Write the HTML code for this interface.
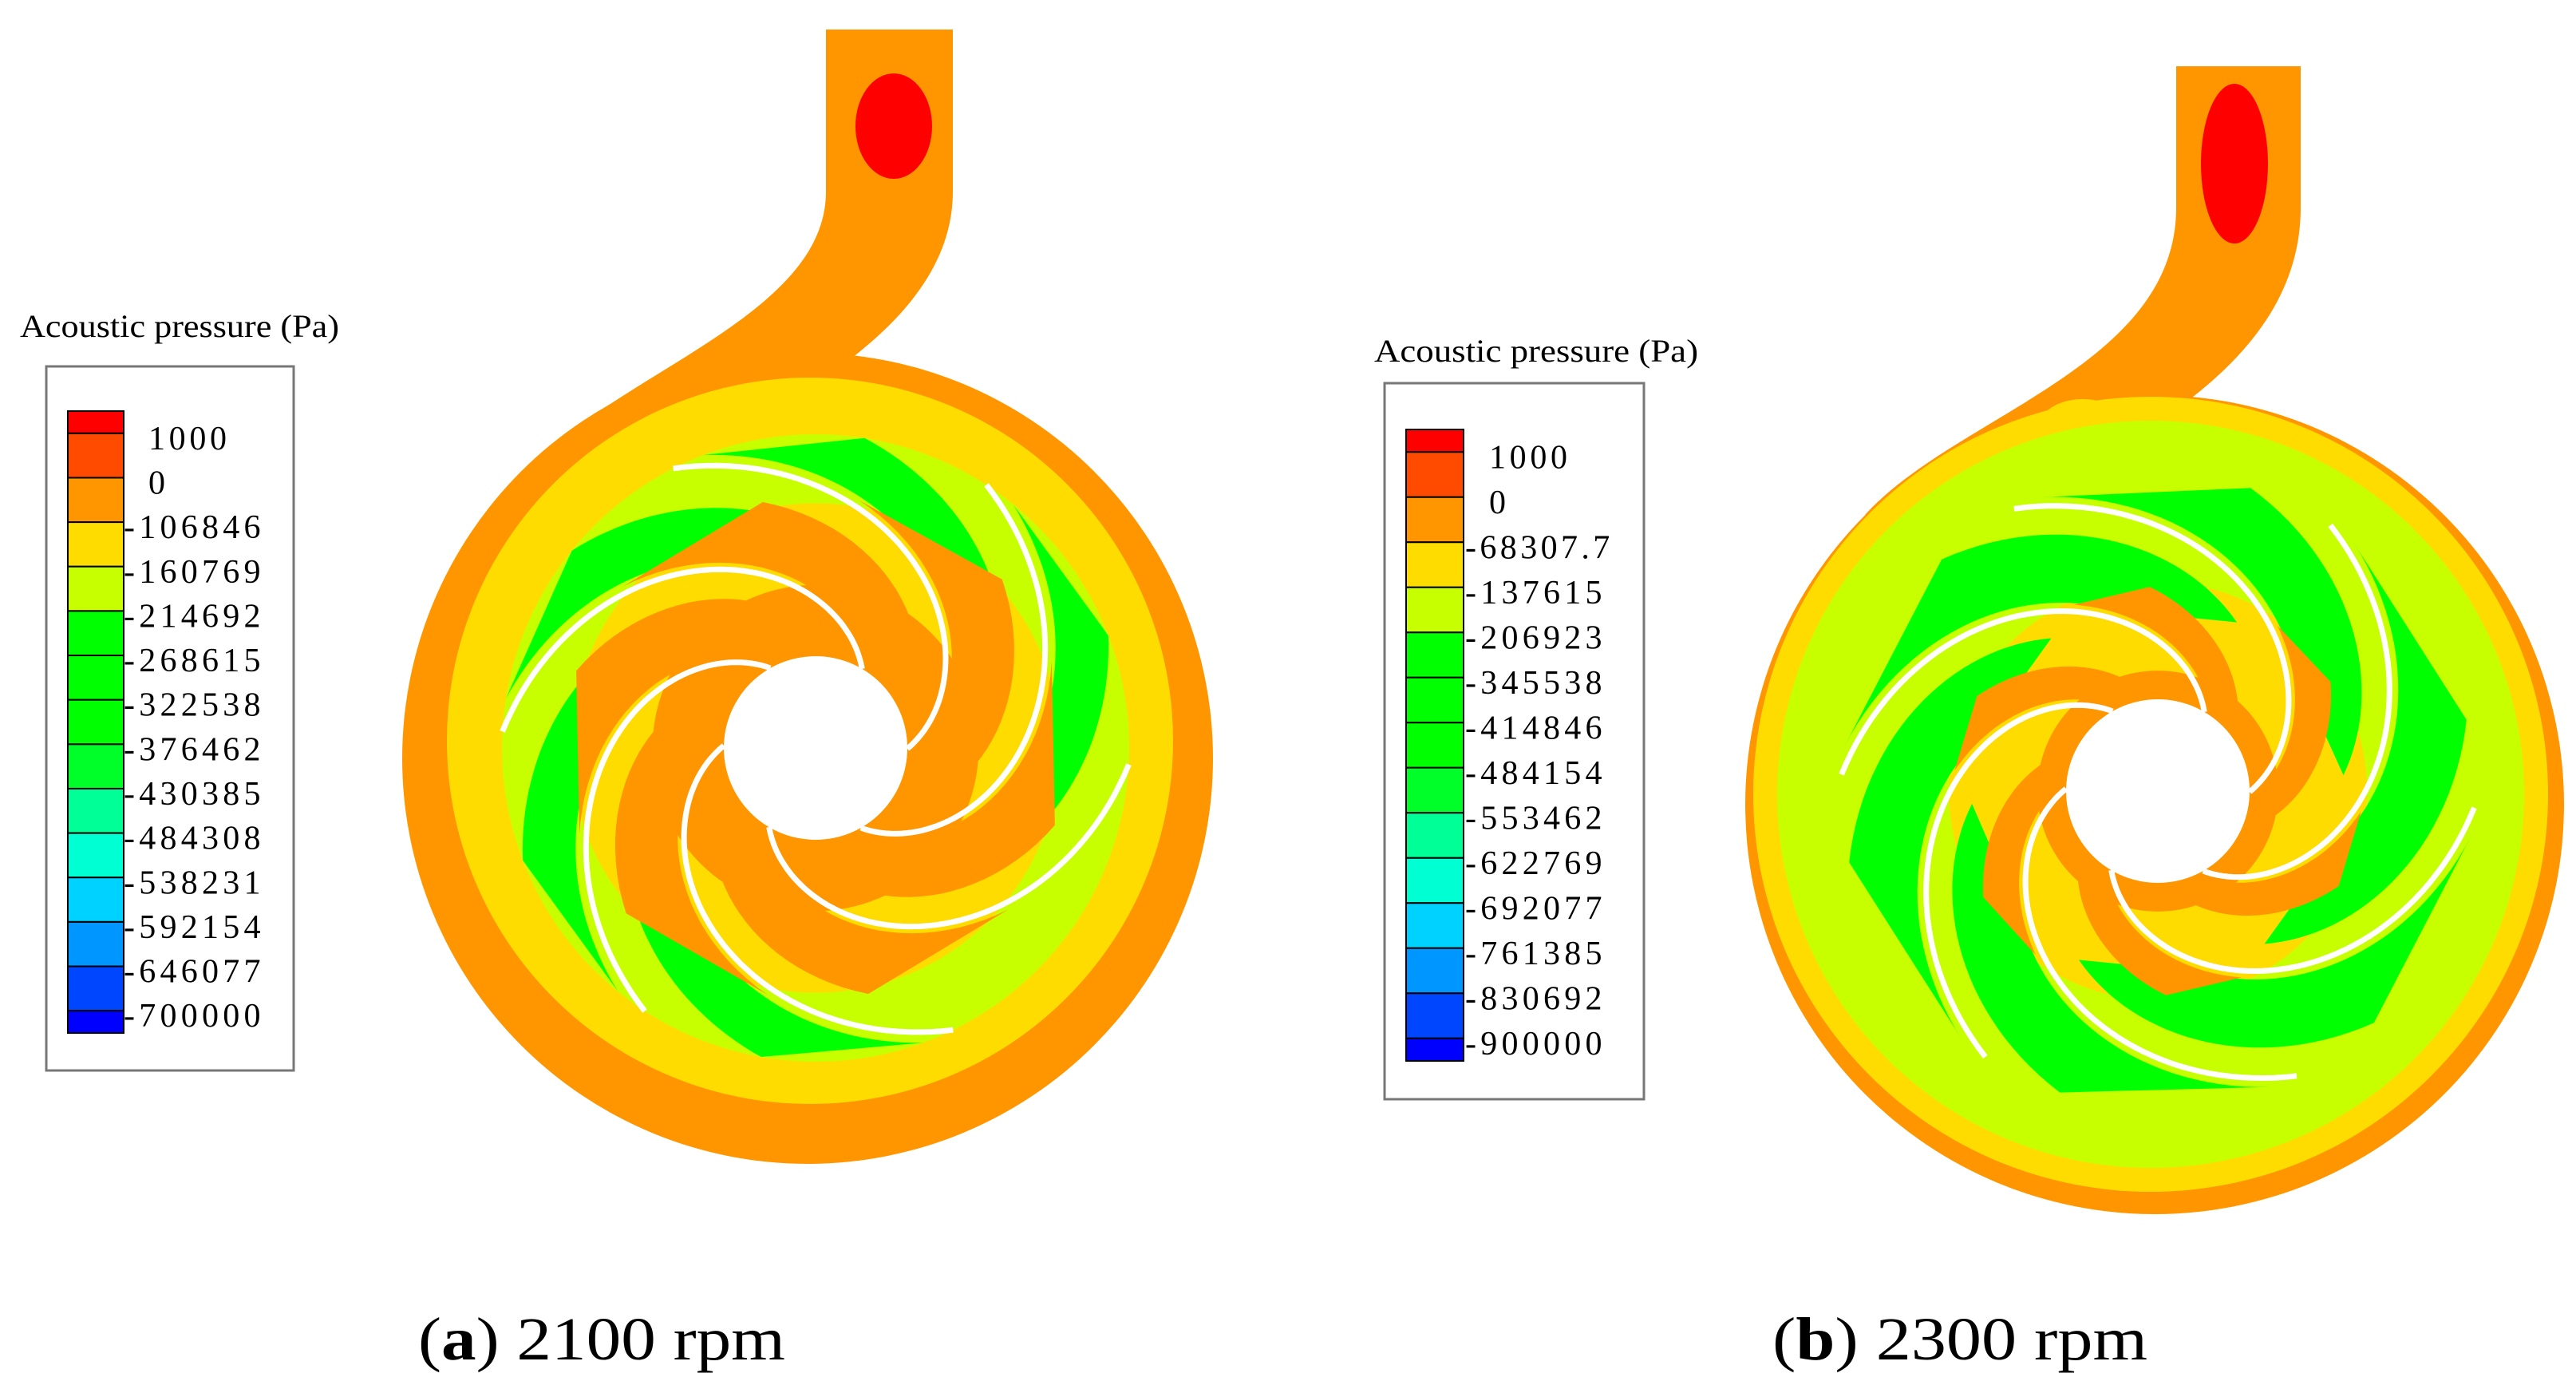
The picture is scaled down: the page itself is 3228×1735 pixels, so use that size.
<!DOCTYPE html>
<html><head><meta charset="utf-8"><style>
html,body{margin:0;padding:0;background:#fff;}
svg{display:block;}
</style></head><body>
<svg id="fig" width="3228" height="1735" viewBox="0 0 3228 1735" xmlns="http://www.w3.org/2000/svg">
<rect width="3228" height="1735" fill="#fff"/>
</svg>
<script>
const bandColors = ["#ff0000","#ff4b00","#ff9600","#ffdc00","#c8ff00","#00ff00","#00ff00","#00ff00","#00ff28","#00ff96","#00ffd2","#00d2ff","#0096ff","#0046ff","#0000ff"];
const labelsA = ["1000","0","-106846","-160769","-214692","-268615","-322538","-376462","-430385","-484308","-538231","-592154","-646077","-700000"];
const labelsB = ["1000","0","-68307.7","-137615","-206923","-345538","-414846","-484154","-553462","-622769","-692077","-761385","-830692","-900000"];
const bladeTipsDeg = [177,117,57,-3,-64,-123];
const greenBladesA = [0,1,2,4,5];
const greenBladesB = [0,1,2,3,4,5];

const NS="http://www.w3.org/2000/svg";
const svg=document.getElementById('fig');
function mk(tag,attrs,parent){const e=document.createElementNS(NS,tag);for(const k in attrs)e.setAttribute(k,attrs[k]);(parent||svg).appendChild(e);return e;}

function legend(g,box,bar,title,labels,minusX,plainX){
  const t=mk('text',{x:title.x,y:title.y,'font-family':'Liberation Serif, serif','font-size':40,textLength:title.w,lengthAdjust:'spacingAndGlyphs',fill:'#000'},g);
  t.textContent='Acoustic pressure (Pa)';
  
  
  const b=mk('rect',{x:box.x,y:box.y,width:box.w,height:box.h,fill:'#fff',stroke:'#777','stroke-width':3},g);
  
  
  const u=(bar.y2-bar.y1)/14;
  let y=bar.y1;
  bandColors.forEach((c,i)=>{
    const h=(i===0||i===bandColors.length-1)?u/2:u;
    const r=mk('rect',{x:bar.x,y:y,width:bar.w,height:h,fill:c,stroke:'#000','stroke-width':2},g);
    
    
    y+=h;
  });
  labels.forEach((l,i)=>{
    const dots=(l.match(/\./g)||[]).length;
    const len=(l.length-dots*0.6)*24.5;
    const tx=mk('text',{x:l[0]==='-'?minusX:plainX,y:bar.y1+u*(0.5+i)+20,'font-family':'Liberation Serif, serif','font-size':42,fill:'#000',textLength:len.toFixed(1),lengthAdjust:'spacing'},g);
    tx.textContent=l;
    
    
  });
}

function bladePt(cx,cy,rh,R,tipDeg,S,t,d){
  const r=rh+(R-rh)*t;
  const phi=(tipDeg*Math.PI/180)-S*(1-t)+d;
  return [cx+r*Math.cos(phi),cy-r*Math.sin(phi)];
}
function passage(g,imp,tip,d1,d2,t1,t2,color){
  const pts=[];const N=30;
  for(let i=0;i<=N;i++){const t=t1+(t2-t1)*i/N;pts.push(bladePt(imp.cx,imp.cy,imp.rh,imp.R,tip,imp.S,t,d1*Math.PI/180));}
  for(let i=N;i>=0;i--){const t=t1+(t2-t1)*i/N;pts.push(bladePt(imp.cx,imp.cy,imp.rh,imp.R,tip,imp.S,t,d2*Math.PI/180));}
  const p=mk('polygon',{points:pts.map(p=>p[0].toFixed(1)+','+p[1].toFixed(1)).join(' '),fill:color},g);
  
  
}
function blade(g,imp,tip){
  const pts=[];
  for(let i=0;i<=60;i++){pts.push(bladePt(imp.cx,imp.cy,imp.rh,imp.R,tip,imp.S,i/60,0));}
  const p=mk('polyline',{points:pts.map(p=>p[0].toFixed(1)+','+p[1].toFixed(1)).join(' '),fill:'none',stroke:'#fff','stroke-width':7},g);
  
  
}

function pump(g,cfg){
  const vol=mk('circle',{cx:cfg.vx,cy:cfg.vy,r:cfg.VR,fill:cfg.voluteColor},g);
  
  
  const pipe=mk('path',{d:cfg.pipe,fill:cfg.pipeColor},g);
  
  
  cfg.pipeExtras.forEach(e=>{const x=mk('ellipse',e,g);});
  cfg.rings.forEach(rg=>{const c=mk('circle',rg,g);});
  const imp=cfg.imp;
  const disk=mk('circle',{cx:imp.cx,cy:imp.cy,r:imp.R,fill:cfg.impBase},g);
  
  
  const mid=mk('circle',{cx:imp.cx,cy:imp.cy,r:imp.R*cfg.midFrac,fill:'#ffdc00'},g);
  
  
  bladeTipsDeg.forEach((tip,k)=>{
    if(cfg.green.includes(k)) passage(g,imp,tip,cfg.gd[0],cfg.gd[1],cfg.gt[0],cfg.gt[1],'#00ff00');
  });
  const core=mk('circle',{cx:imp.cx,cy:imp.cy,r:imp.R*cfg.coreFrac,fill:'#ff9600'},g);
  
  
  bladeTipsDeg.forEach(tip=>{passage(g,imp,tip,cfg.od[0],cfg.od[1],0,cfg.ot,'#ff9600');});
  const hub=mk('circle',{cx:imp.cx,cy:imp.cy,r:imp.rh,fill:'#fff'},g);
  
  
  bladeTipsDeg.forEach(tip=>blade(g,imp,tip));
}

const gA=mk('g',{});


pump(gA,{vx:1012,vy:950,VR:508,voluteColor:'#ff9600',pipeColor:'#ff9600',
  pipe:'M1035,37 L1194,37 L1194,240 C1194,400 1000,500 848,580 L650,600 C760,470 1035,400 1035,240 Z',
  pipeExtras:[{cx:1120,cy:158,rx:48,ry:66,fill:'#ff0000'}],
  rings:[{cx:1015,cy:928,r:455,fill:'#ffdc00'}],
  imp:{cx:1022,cy:937,rh:115,R:393,S:2.05},impBase:'#c8ff00',midFrac:0.78,coreFrac:0.52,
  green:greenBladesA,gd:[-6,-36],gt:[0.55,1],od:[-4,-42],ot:0.72});
legend(gA,{x:58,y:459,w:310,h:882},{x:85,y1:515,y2:1294,w:70},{x:25,y:422,w:400},labelsA,155,186);
const capA=mk('text',{x:524,y:1703,'font-family':'Liberation Serif, serif','font-size':76,fill:'#000',textLength:460,lengthAdjust:'spacingAndGlyphs'},gA);
capA.innerHTML='(<tspan font-weight="bold">a</tspan>) 2100 rpm';



const gB=mk('g',{});


pump(gB,{vx:2700,vy:1008,VR:513,voluteColor:'#ff9600',pipeColor:'#ff9600',
  pipe:'M2727,83 L2883,83 L2883,260 C2883,440 2700,540 2535,625 L2337,645 C2450,520 2727,460 2727,260 Z',
  pipeExtras:[{cx:2800,cy:205,rx:42,ry:100,fill:'#ff0000'},{cx:2610,cy:535,rx:55,ry:35,fill:'#ffdc00'}],
  rings:[{cx:2695,cy:995,r:498,fill:'#ffdc00'},{cx:2695,cy:995,r:468,fill:'#c8ff00'}],
  imp:{cx:2704,cy:991,rh:115,R:397,S:2.05},impBase:'#c8ff00',midFrac:0.66,coreFrac:0.38,
  green:greenBladesB,gd:[-5,-44],gt:[0.42,1],od:[-4,-26],ot:0.5});
legend(gB,{x:1735,y:480,w:325,h:897},{x:1762,y1:538,y2:1329,w:72},{x:1722,y:453,w:406},labelsB,1836,1866);
const capB=mk('text',{x:2221,y:1703,'font-family':'Liberation Serif, serif','font-size':76,fill:'#000',textLength:470,lengthAdjust:'spacingAndGlyphs'},gB);
capB.innerHTML='(<tspan font-weight="bold">b</tspan>) 2300 rpm';


</script>
</body></html>
